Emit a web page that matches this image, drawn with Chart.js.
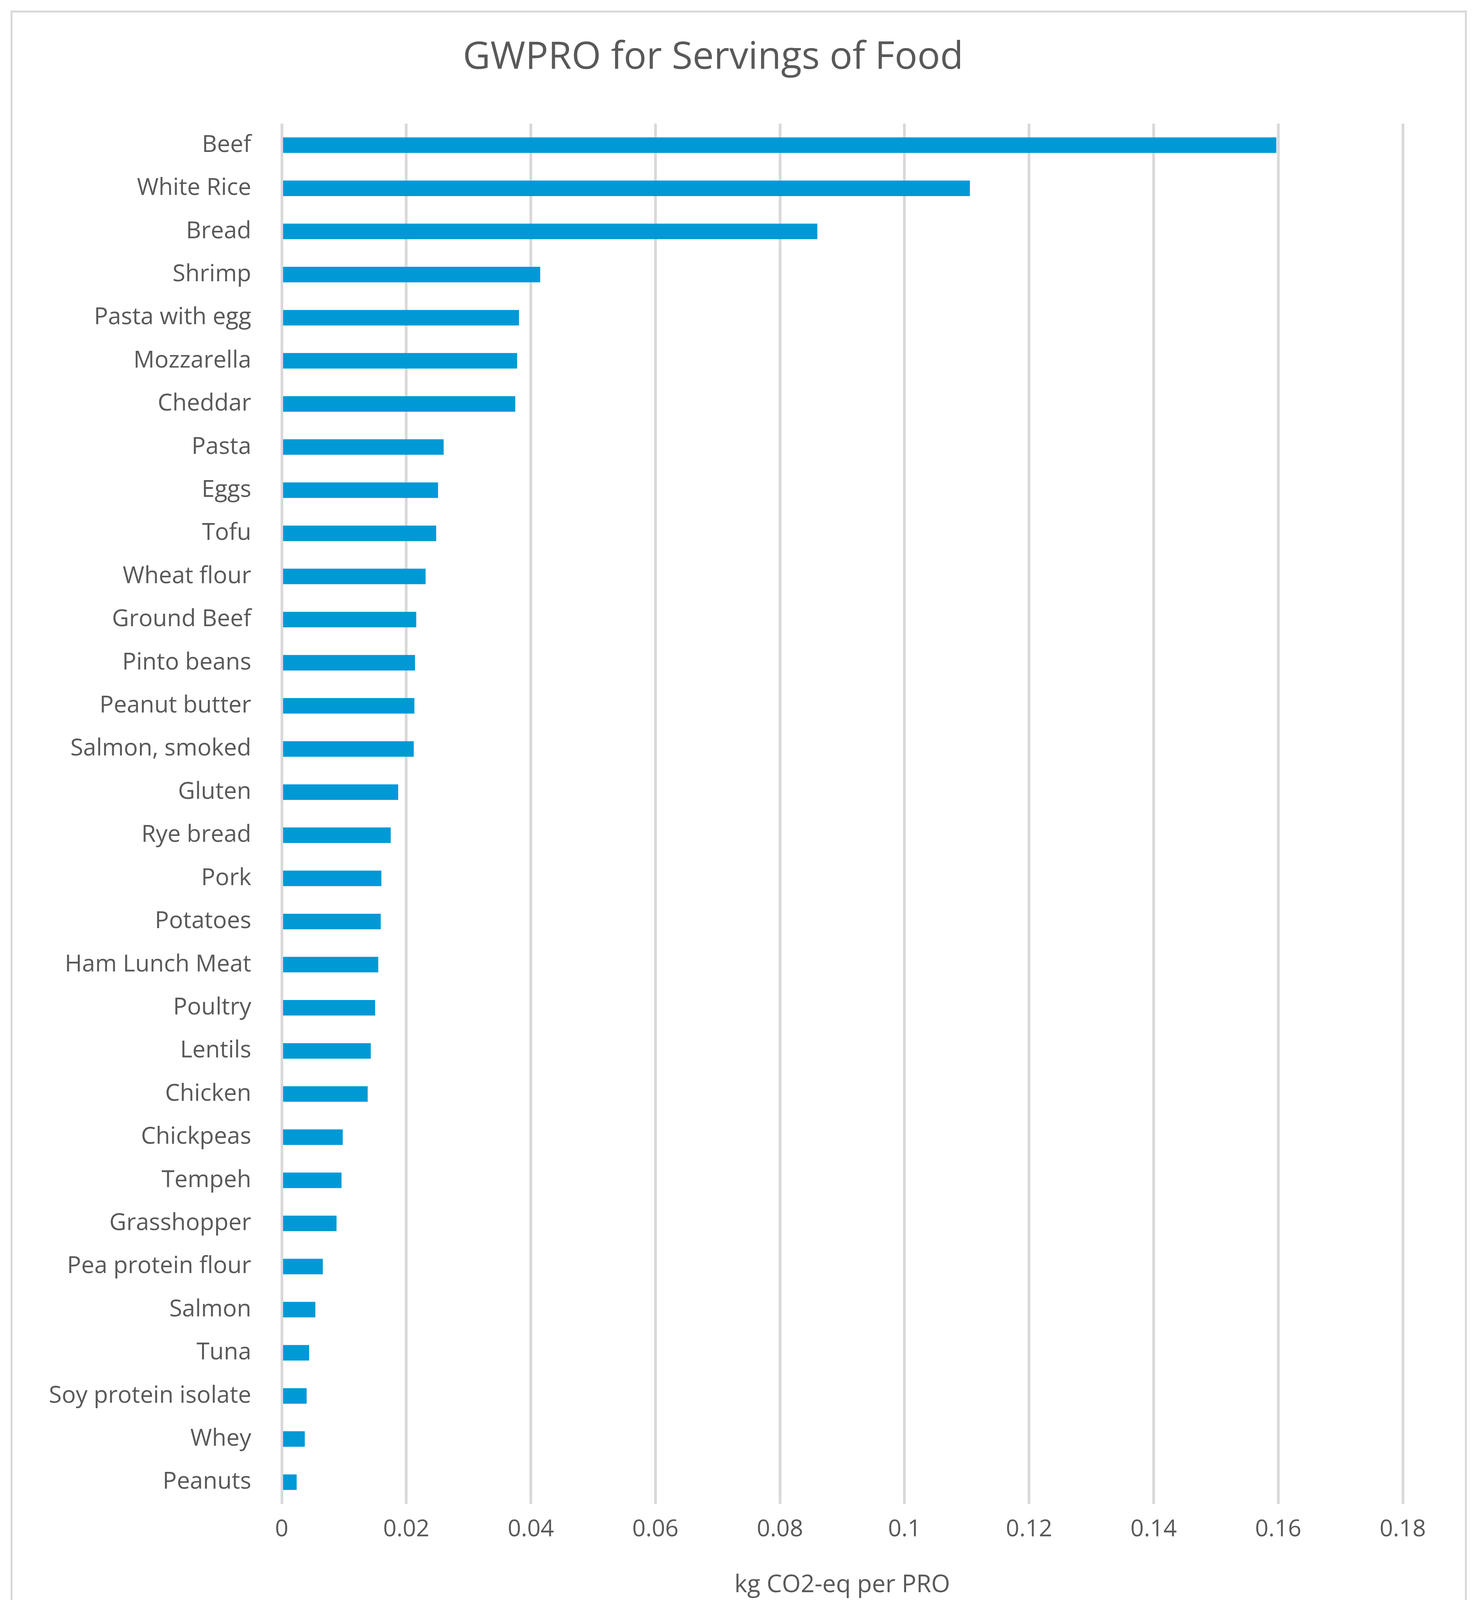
<!DOCTYPE html>
<html>
<head>
<meta charset="utf-8">
<script src="https://cdn.jsdelivr.net/npm/chart.js@4.4.1/dist/chart.umd.min.js"></script>
<style>
  body { margin: 0; background: #fff; }
  #frame { position: absolute; left: 27px; top: 27px; width: 3717px; height: 4147px; border: 5px solid #d9d9d9; }
  canvas { position: absolute; left: 0; top: 0; }
</style>
</head>
<body>
<div id="frame"></div>
<canvas id="grafico" width="3780" height="4220"></canvas>
<script>
const foods = ['Beef', 'White Rice', 'Bread', 'Shrimp', 'Pasta with egg', 'Mozzarella', 'Cheddar', 'Pasta',
   'Eggs', 'Tofu', 'Wheat flour', 'Ground Beef', 'Pinto beans', 'Peanut butter', 'Salmon, smoked', 'Gluten',
   'Rye bread', 'Pork', 'Potatoes', 'Ham Lunch Meat', 'Poultry', 'Lentils', 'Chicken', 'Chickpeas', 'Tempeh',
   'Grasshopper', 'Pea protein flour', 'Salmon', 'Tuna', 'Soy protein isolate', 'Whey', 'Peanuts']
const gwpro = [0.1597, 0.1105, 0.0860, 0.0415, 0.0381, 0.0378, 0.0375, 0.0260,
   0.0251, 0.0248, 0.0231, 0.0216, 0.0214, 0.0213, 0.0212, 0.0187,
   0.0175, 0.0160, 0.0159, 0.0155, 0.0150, 0.0143, 0.0138, 0.0098, 0.0096,
   0.0088, 0.0066, 0.0054, 0.0044, 0.0040, 0.0037, 0.0024]
const xTicks = [0, 0.02, 0.04, 0.06, 0.08, 0.1, 0.12, 0.14, 0.16, 0.18]

const gris = '#595959'
const fuente = 'Open Sans, Noto Sans, sans-serif'
const ctx = document.getElementById('grafico').getContext('2d')
new Chart(ctx, {
   type: 'bar',
   data: {
      labels: foods,
      datasets: [{
         label: 'GWPRO',
         data: gwpro,
         backgroundColor: '#0099d6',
         categoryPercentage: 1,
         barPercentage: 0.36
      }]
   },
   options: {
      indexAxis: 'y',
      responsive: false,
      animation: false,
      devicePixelRatio: 1,
      layout: { padding: { left: 60, right: 190, top: 60, bottom: 120 } },
      plugins: {
         legend: { display: false },
         tooltip: { enabled: false },
         title: {
            display: true,
            text: 'GWPRO for Servings of Food',
            color: gris,
            font: { family: fuente, size: 97, weight: 'normal' },
            padding: { top: 30, bottom: 110 }
         }
      },
      scales: {
         x: {
            min: 0,
            max: 0.18,
            afterBuildTicks: (s) => { s.ticks = xTicks.map(v => ({ value: v })) },
            ticks: {
               color: gris,
               font: { family: fuente, size: 60 },
               padding: 30,
               callback: (v) => String(Number(v.toFixed(2)))
            },
            grid: { color: '#d9d9d9', lineWidth: 7, drawTicks: false },
            border: { display: false },
            title: {
               display: true,
               text: 'kg CO2-eq per PRO',
               color: gris,
               font: { family: fuente, size: 62 },
               padding: { top: 40 }
            }
         },
         y: {
            afterFit: (s) => { s.width = 661 },
            ticks: { color: gris, font: { family: fuente, size: 60 }, padding: 70, autoSkip: false },
            grid: { display: false },
            border: { display: false }
         }
      }
   }
})
</script>
</body>
</html>
